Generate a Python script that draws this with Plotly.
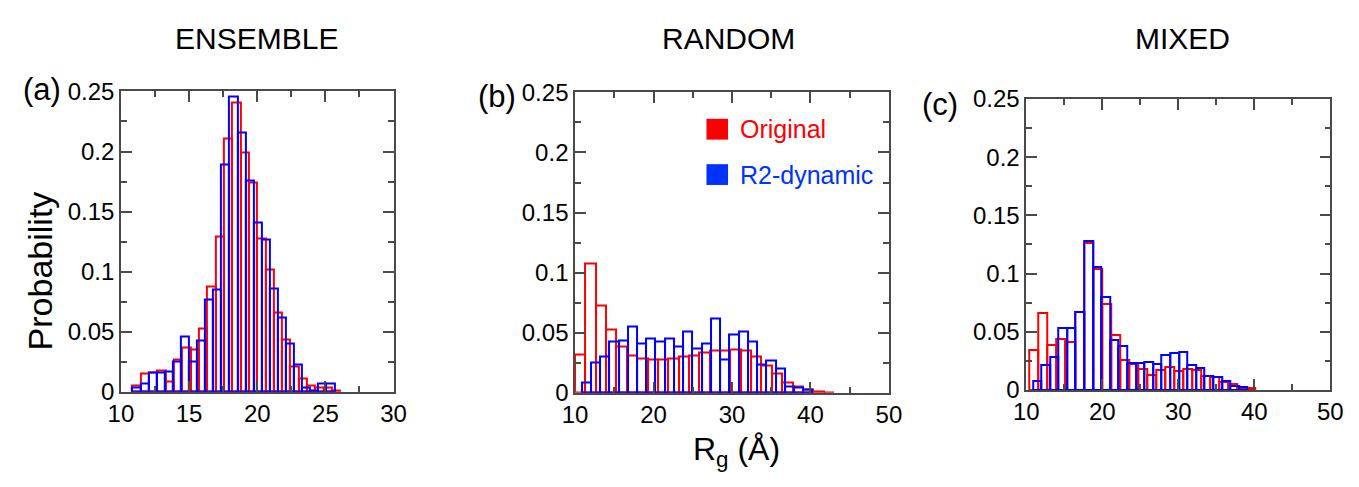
import plotly.graph_objects as go

# ---------------- data (probability density per bin) ----------------
ens_orig_start, ens_orig_width = 10.84, 0.61
ens_orig = [0.005, 0.015, 0.016, 0.018, 0.009, 0.027, 0.037, 0.035, 0.053, 0.088,
            0.129, 0.211, 0.241, 0.199, 0.174, 0.128, 0.102, 0.066, 0.044, 0.021,
            0.011, 0.005, 0.004, 0.004, 0.0015]
ens_r2_start, ens_r2_width = 10.84, 0.593
ens_r2 = [0.004, 0.007, 0.016, 0.016, 0.017, 0.025, 0.046, 0.025, 0.043, 0.077,
          0.085, 0.189, 0.246, 0.216, 0.176, 0.141, 0.127, 0.086, 0.062, 0.040,
          0.023, 0.004, 0.001, 0.007, 0.007]

ran_orig_start, ran_orig_width = 10.0, 1.32
ran_orig = [0.032, 0.108, 0.073, 0.053, 0.039, 0.031, 0.029, 0.028, 0.028, 0.029,
            0.030, 0.031, 0.034, 0.035, 0.035, 0.036, 0.035, 0.030, 0.023, 0.016,
            0.009, 0.005, 0.003, 0.001, 0.0005]
ran_r2_start, ran_r2_width = 10.84, 1.177
ran_r2 = [0.009, 0.025, 0.030, 0.043, 0.044, 0.055, 0.041, 0.045, 0.043, 0.045,
          0.039, 0.051, 0.037, 0.041, 0.062, 0.028, 0.049, 0.051, 0.043, 0.024,
          0.027, 0.020, 0.0055, 0.0047, 0.003]

mix_orig_start, mix_orig_width = 10.43, 1.19
mix_orig = [0.034, 0.066, 0.039, 0.044, 0.041, 0.067, 0.126, 0.104, 0.074, 0.047,
            0.026, 0.022, 0.018, 0.013, 0.017, 0.020, 0.016, 0.018, 0.017, 0.012,
            0.011, 0.007, 0.005, 0.002, 0.0013]
mix_r2_start, mix_r2_width = 10.86, 1.13
mix_r2 = [0.008, 0.0215, 0.028, 0.053, 0.053, 0.067, 0.128, 0.106, 0.080, 0.043,
          0.038, 0.023, 0.0235, 0.024, 0.022, 0.030, 0.032, 0.033, 0.021, 0.019,
          0.012, 0.011, 0.0075, 0.003, 0.0027]

panel_titles = ["ENSEMBLE", "RANDOM", "MIXED"]
panel_letters = ["(a)", "(b)", "(c)"]
series_names = ["Original", "R2-dynamic"]
y_ticks = [0, 0.05, 0.1, 0.15, 0.2, 0.25]
y_ticklabels = ["0", "0.05", "0.1", "0.15", "0.2", "0.25"]
x_ranges = [[10, 30], [10, 50], [10, 50]]
x_dticks = [5, 10, 10]

# ---------------- layout helpers ----------------
W, H = 1359, 487
RED = "rgb(255,0,0)"
BLUE = "rgb(0,0,255)"
FRAME = "#4a4a4a"
FONT = "Liberation Sans, Arial, sans-serif"


def fx(px):
    return px / W


def fy(py):
    return 1 - py / H


# pixel boxes of the three plotting areas (left, right, top, bottom)
boxes = [(110, 388, 82, 400), (573, 893, 83, 401), (1033, 1343, 90, 398)]

data = [
    [(ens_orig_start, ens_orig_width, ens_orig), (ens_r2_start, ens_r2_width, ens_r2)],
    [(ran_orig_start, ran_orig_width, ran_orig), (ran_r2_start, ran_r2_width, ran_r2)],
    [(mix_orig_start, mix_orig_width, mix_orig), (mix_r2_start, mix_r2_width, mix_r2)],
]

fig = go.Figure()

for p in range(3):
    ax = "" if p == 0 else str(p + 1)
    for s, (start, width, vals) in enumerate(data[p]):
        centers = [start + width * (i + 0.5) for i in range(len(vals))]
        fig.add_trace(go.Bar(
            x=centers, y=vals, width=width,
            name=series_names[s], showlegend=False,
            marker=dict(color="rgba(0,0,0,0)",
                        line=dict(color=[RED, BLUE][s], width=2)),
            xaxis="x" + ax, yaxis="y" + ax,
        ))

    l, r, t, b = boxes[p]
    xa = dict(
        domain=[fx(l), fx(r)], range=x_ranges[p], anchor="y" + ax,
        tickmode="linear", tick0=10, dtick=x_dticks[p],
        ticks="inside", ticklen=11, tickwidth=1.5, tickcolor=FRAME,
        minor=dict(ticks="inside", ticklen=6, tickwidth=1.5, tickcolor=FRAME,
                   dtick=x_dticks[p] / 2, tick0=10),
        showline=True, linecolor=FRAME, linewidth=1.5, mirror="ticks",
        showgrid=False, zeroline=False,
        tickfont=dict(family=FONT, size=24, color="black"),
        fixedrange=True,
    )
    ya = dict(
        domain=[fy(b), fy(t)], range=[0, 0.25], anchor="x" + ax,
        tickmode="array", tickvals=y_ticks, ticktext=y_ticklabels,
        ticks="inside", ticklen=11, tickwidth=1.5, tickcolor=FRAME,
        minor=dict(ticks="inside", ticklen=6, tickwidth=1.5, tickcolor=FRAME,
                   tickmode="linear", tick0=0, dtick=0.025),
        showline=True, linecolor=FRAME, linewidth=1.5, mirror="ticks",
        showgrid=False, zeroline=False,
        tickfont=dict(family=FONT, size=24, color="black"),
        fixedrange=True,
    )
    fig.layout["xaxis" + ax] = xa
    fig.layout["yaxis" + ax] = ya

annotations = []
title_x = [248, 729, 1192]
for p in range(3):
    annotations.append(dict(
        text=panel_titles[p], x=fx(title_x[p]), y=fy(26), xref="paper", yref="paper",
        xanchor="center", yanchor="middle", showarrow=False,
        font=dict(family=FONT, size=30, color="black")))

letter_pos = [(30, 80), (493, 87), (945, 96)]
for p in range(3):
    lx, ly = letter_pos[p]
    annotations.append(dict(
        text=panel_letters[p], x=fx(lx), y=fy(ly), xref="paper", yref="paper",
        xanchor="center", yanchor="middle", showarrow=False,
        font=dict(family=FONT, size=31, color="black")))

annotations.append(dict(
    text="Probability", x=fx(27), y=fy(272), xref="paper", yref="paper",
    xanchor="center", yanchor="middle", showarrow=False, textangle=-90,
    font=dict(family=FONT, size=34, color="black")))
annotations.append(dict(
    text="R<sub>g</sub> (Å)", x=fx(738), y=fy(463), xref="paper", yref="paper",
    xanchor="center", yanchor="middle", showarrow=False,
    font=dict(family=FONT, size=32, color="black")))

# legend inside panel (b)
legend_rows = [(series_names[0], RED, 122), (series_names[1], "rgb(0,50,255)", 170)]
shapes = []
for name, col, cy in legend_rows:
    shapes.append(dict(type="rect", xref="paper", yref="paper",
                       x0=fx(707), x1=fx(729), y0=fy(cy + 11), y1=fy(cy - 11),
                       fillcolor=col, line=dict(width=0)))
    annotations.append(dict(
        text=name, x=fx(739), y=fy(cy), xref="paper", yref="paper",
        xanchor="left", yanchor="middle", showarrow=False,
        font=dict(family=FONT, size=25, color=col)))

fig.update_layout(
    width=W, height=H, margin=dict(l=0, r=0, t=0, b=0),
    paper_bgcolor="white", plot_bgcolor="white",
    barmode="overlay", bargap=0,
    annotations=annotations, shapes=shapes,
    showlegend=False,
)

fig.write_html("out.html")
